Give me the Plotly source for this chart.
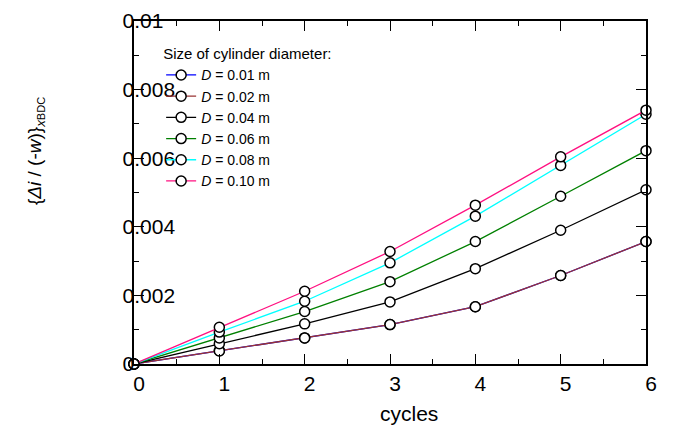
import plotly.graph_objects as go

cycles = [0, 1, 2, 3, 4, 5, 6]
d_001 = [0, 0.00039, 0.00076, 0.00115, 0.00167, 0.00258, 0.00357]
d_002 = [0, 0.00038, 0.00076, 0.00115, 0.00167, 0.00258, 0.00357]
d_004 = [0, 0.00059, 0.00117, 0.00181, 0.00278, 0.00390, 0.00508]
d_006 = [0, 0.00076, 0.00153, 0.00240, 0.00357, 0.00489, 0.00622]
d_008 = [0, 0.00093, 0.00183, 0.00295, 0.00431, 0.00579, 0.00728]
d_010 = [0, 0.00107, 0.00212, 0.00328, 0.00463, 0.00604, 0.00740]

series_names = ["<i>D</i> = 0.01 m", "<i>D</i> = 0.02 m", "<i>D</i> = 0.04 m",
                "<i>D</i> = 0.06 m", "<i>D</i> = 0.08 m", "<i>D</i> = 0.10 m"]
series_values = [d_001, d_002, d_004, d_006, d_008, d_010]
series_colors = ["#0000FF", "#993333", "#000000", "#008000", "#00FFFF", "#FF1080"]

y_tickvals = [0, 0.002, 0.004, 0.006, 0.008, 0.01]
y_ticktext = ["0", "0.002", "0.004", "0.006", "0.008", "0.01"]
x_tickvals = [0, 1, 2, 3, 4, 5, 6]

fig = go.Figure()
for name, vals, col in zip(series_names, series_values, series_colors):
    fig.add_trace(go.Scatter(
        x=cycles, y=vals, name=name, mode="lines+markers",
        line=dict(color=col, width=1.3),
        marker=dict(symbol="circle", size=10, color="white",
                    line=dict(color="black", width=1.5)),
        cliponaxis=False,
    ))

font_family = "Liberation Sans, Arial, sans-serif"

fig.update_layout(
    width=673, height=429,
    margin=dict(l=126, r=35, t=13, b=73, autoexpand=False),
    paper_bgcolor="white", plot_bgcolor="white",
    font=dict(family=font_family, color="black"),
    showlegend=True,
    legend=dict(
        x=0.053, y=0.945, xanchor="left", yanchor="top",
        bgcolor="rgba(0,0,0,0)", borderwidth=0,
        font=dict(size=14, family=font_family, color="black"),
        title=dict(text="Size of cylinder diameter:",
                   font=dict(size=15, family=font_family, color="black")),
        tracegroupgap=0,
    ),
    xaxis=dict(
        range=[0, 6], tickvals=x_tickvals, automargin=False,
        showline=True, linecolor="black", linewidth=1.5, mirror="ticks",
        ticks="inside", ticklen=10, tickcolor="black", tickwidth=1,
        minor=dict(ticks="inside", ticklen=5, dtick=0.5, tickcolor="black"),
        showgrid=False, zeroline=False,
        tickfont=dict(size=21, family=font_family, color="black"),
        ticklabelshift=5, ticklabelstandoff=0, ticklabeloverflow="allow",
    ),
    yaxis=dict(
        range=[0, 0.01], tickvals=y_tickvals, ticktext=y_ticktext, automargin=False,
        showline=True, linecolor="black", linewidth=1.5, mirror="ticks",
        ticks="inside", ticklen=10, tickcolor="black", tickwidth=1,
        minor=dict(ticks="inside", ticklen=5, dtick=0.001, tickcolor="black"),
        showgrid=False, zeroline=False,
        tickfont=dict(size=21, family=font_family, color="black"),
        ticklabelposition="inside", ticklabelstandoff=-20, ticklabeloverflow="allow",
    ),
    annotations=[
        dict(text="cycles", xref="paper", yref="paper", x=0.537, y=-0.145,
             xanchor="center", yanchor="middle", showarrow=False,
             font=dict(size=21, family=font_family, color="black")),
        dict(text="{<i>Δi</i> / (-<i>w</i>)}<sub><i>x</i><span style='font-size:11px'>BDC</span></sub>",
             xref="paper", yref="paper", x=-0.19, y=0.62,
             xanchor="center", yanchor="middle", textangle=-90, showarrow=False,
             font=dict(size=19, family=font_family, color="black")),
    ],
)

fig.write_html("out.html")
